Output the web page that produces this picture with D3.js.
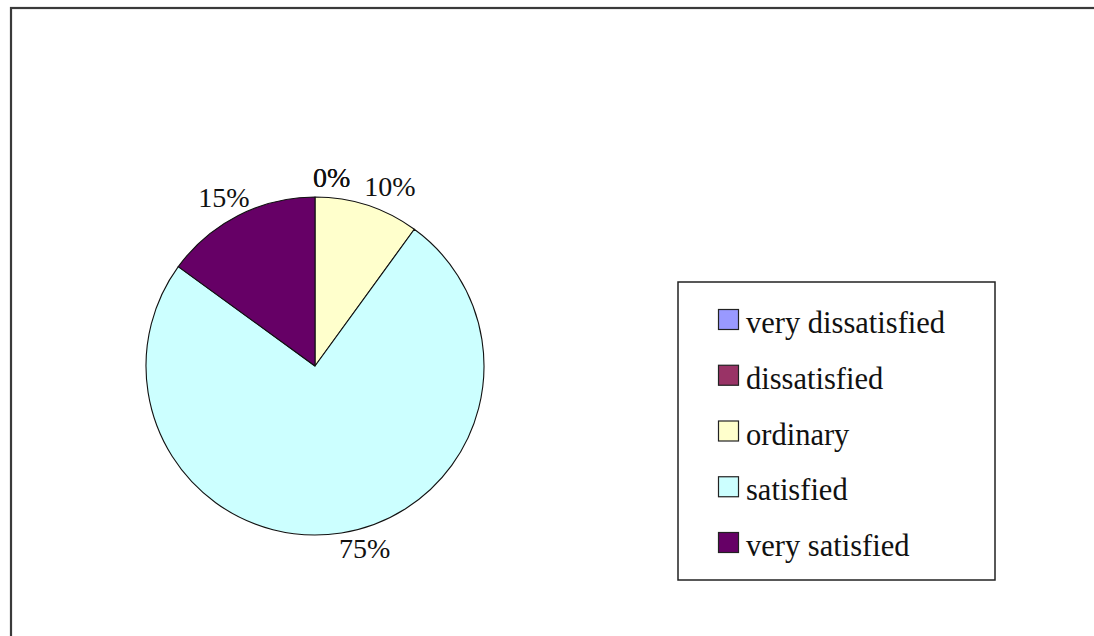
<!DOCTYPE html>
<html>
<head>
<meta charset="utf-8">
<script src="https://cdn.jsdelivr.net/npm/d3@7/dist/d3.min.js"></script>
<style>
  html, body { margin: 0; padding: 0; background: #fff; }
  svg { display: block; }
</style>
</head>
<body>
<svg id="chart" width="1094" height="636"></svg>
<script>
// Satisfaction survey results
const categories = ["very dissatisfied", "dissatisfied", "ordinary", "satisfied", "very satisfied"];
const shares = [0, 0, 10, 75, 15];
const colors = ["#9999FF", "#993366", "#FFFFCC", "#CCFFFF", "#660066"];

const FONT = "Liberation Serif";

const svg = d3.select("#chart").style("font-family", FONT);
const W = 1094, H = 636;

// outer chart frame (right and bottom edges fall outside the view)
svg.append("rect")
  .attr("x", 11).attr("y", 8)
  .attr("width", W + 40).attr("height", H + 40)
  .attr("fill", "#fff")
  .attr("stroke", "#3a3a3a")
  .attr("stroke-width", 2.2);

// pie
const cx = 315, cy = 366, r = 169;
const color = d3.scaleOrdinal().domain(categories).range(colors);

const pie = d3.pie().sort(null).value(d => d.value);
const data = categories.map((c, i) => ({ name: c, value: shares[i] }));
const arcs = pie(data);
const arc = d3.arc().innerRadius(0).outerRadius(r);

const g = svg.append("g").attr("transform", `translate(${cx},${cy})`);

g.selectAll("path.slice")
  .data(arcs.filter(d => d.value > 0))
  .join("path")
  .attr("class", "slice")
  .attr("d", arc)
  .attr("fill", d => color(d.data.name))
  .attr("stroke", "#111")
  .attr("stroke-width", 1.1)
  .attr("stroke-linejoin", "round");

// percentage labels placed just outside each slice's mid-angle
const labelR = 166;
g.selectAll("text.pct")
  .data(arcs)
  .join("text")
  .attr("class", "pct")
  .each(function (d) {
    const a = (d.startAngle + d.endAngle) / 2;
    const s = Math.sin(a), c = Math.cos(a);
    const x = s * labelR + (s < -1e-6 ? 10 : -2);
    const y = -c * labelR + 7.5 - c * 20.5;
    d3.select(this)
      .attr("x", x)
      .attr("y", y)
      .attr("text-anchor", s < -1e-6 ? "end" : "start");
  })
  .attr("fill", "#111")
  .style("font-family", FONT)
  .attr("font-size", 28)
  .text(d => d3.format(".0%")(d.value / d3.sum(shares)));

// legend
const legend = svg.append("g").attr("transform", "translate(678,282)");
legend.append("rect")
  .attr("x", 0).attr("y", 0)
  .attr("width", 317).attr("height", 298)
  .attr("fill", "#fff")
  .attr("stroke", "#222")
  .attr("stroke-width", 1.5);

const rowY = d3.scalePoint().domain(categories).range([27, 250]);

const rows = legend.selectAll("g.item")
  .data(categories)
  .join("g")
  .attr("class", "item")
  .attr("transform", d => `translate(0,${rowY(d)})`);

rows.append("rect")
  .attr("x", 40.5).attr("y", 0.5)
  .attr("width", 20).attr("height", 20)
  .attr("fill", d => color(d))
  .attr("stroke", "#222")
  .attr("stroke-width", 1.2);

rows.append("text")
  .attr("x", 68)
  .attr("y", 24)
  .attr("fill", "#111")
  .style("font-family", FONT)
  .attr("font-size", 30.5)
  .text(d => d);
</script>
</body>
</html>
